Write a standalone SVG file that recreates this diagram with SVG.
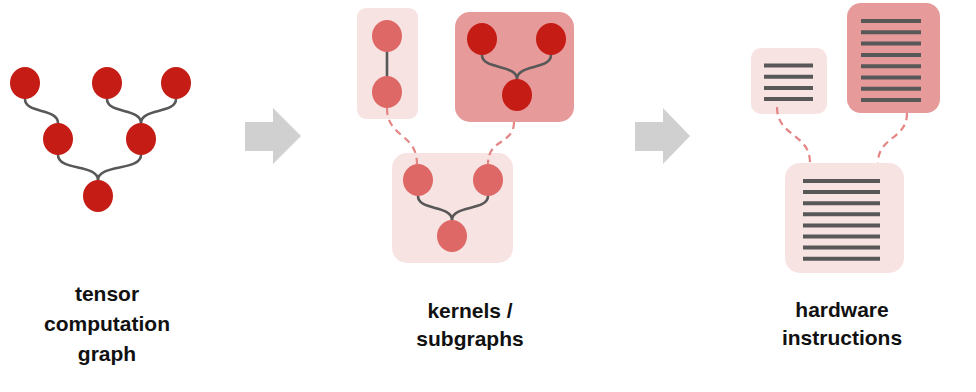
<svg xmlns="http://www.w3.org/2000/svg" width="976" height="392" viewBox="0 0 976 392">
  <style>
    .op-dark { fill: #C51D16; }
    .op-light { fill: #DD6866; }
    .edge { fill: none; stroke: #585858; stroke-width: 2.6; stroke-linecap: round; }
    .link { fill: none; stroke: #E48585; stroke-width: 2.2; stroke-dasharray: 7 5; }
    .box-light { fill: #F8E3E3; }
    .box-dark { fill: #E69A9A; }
    .instr { stroke: #585858; stroke-width: 4; }
    .step { fill: #D0D0D0; }
    .caption { font-family: "Liberation Sans", Arial, sans-serif; font-weight: bold; font-size: 21px; fill: #111; text-anchor: middle; }
  </style>

  <!-- stage 1: tensor computation graph -->
  <g id="graph">
    <g id="graph-edges">
      <path class="edge" d="M25,99 C25,114 58,108 58,123"/>
      <path class="edge" d="M107,99 C107,114 141,108 141,123"/>
      <path class="edge" d="M176,99 C176,114 141,108 141,123"/>
      <path class="edge" d="M58,155 C58,171 98,164 98,180"/>
      <path class="edge" d="M141,155 C141,171 98,164 98,180"/>
    </g>
    <g id="g-n1"><ellipse class="op-dark" cx="25" cy="83" rx="15" ry="16"/></g>
    <g id="g-n2"><ellipse class="op-dark" cx="107" cy="83" rx="15" ry="16"/></g>
    <g id="g-n3"><ellipse class="op-dark" cx="176" cy="83" rx="15" ry="16"/></g>
    <g id="g-n4"><ellipse class="op-dark" cx="58" cy="139" rx="15" ry="16"/></g>
    <g id="g-n5"><ellipse class="op-dark" cx="141" cy="139" rx="15" ry="16"/></g>
    <g id="g-n6"><ellipse class="op-dark" cx="98" cy="196" rx="15" ry="16"/></g>
  </g>

  <!-- step arrows -->
  <g id="arrows">
    <polygon class="step" points="245,122 273,122 273,108 301,136 273,164 273,151 245,151"/>
    <polygon class="step" points="635,122 663,122 663,108 690,136 663,164 663,151 635,151"/>
  </g>

  <!-- stage 2: kernels / subgraphs -->
  <g id="kernel-a">
    <rect class="box-light" x="357" y="8" width="61" height="111" rx="9"/>
    <line class="edge" x1="387" y1="50" x2="387" y2="78"/>
    <ellipse class="op-light" cx="387" cy="36" rx="15" ry="16"/>
    <ellipse class="op-light" cx="387" cy="92" rx="15" ry="16"/>
  </g>
  <g id="kernel-b">
    <rect class="box-dark" x="455" y="12" width="119" height="110" rx="15"/>
    <path class="edge" d="M482,55 C482,70 517,64 517,79"/>
    <path class="edge" d="M551,55 C551,70 517,64 517,79"/>
    <ellipse class="op-dark" cx="482" cy="39" rx="15" ry="16"/>
    <ellipse class="op-dark" cx="551" cy="39" rx="15" ry="16"/>
    <ellipse class="op-dark" cx="517" cy="95" rx="15" ry="16"/>
  </g>
  <g id="kernel-c">
    <rect class="box-light" x="392" y="153" width="121" height="110" rx="15"/>
    <path class="edge" d="M418,196 C418,211 452,205 452,220"/>
    <path class="edge" d="M488,196 C488,211 452,205 452,220"/>
    <ellipse class="op-light" cx="418" cy="180" rx="15" ry="16"/>
    <ellipse class="op-light" cx="488" cy="180" rx="15" ry="16"/>
    <ellipse class="op-light" cx="452" cy="236" rx="15" ry="16"/>
  </g>

  <!-- stage 3: hardware instructions -->
  <g id="instr-a">
    <rect class="box-light" x="751" y="48" width="76" height="66" rx="10"/>
    <g class="instr">
      <line x1="764" y1="65.5" x2="813" y2="65.5"/>
      <line x1="764" y1="76.7" x2="813" y2="76.7"/>
      <line x1="764" y1="87.9" x2="813" y2="87.9"/>
      <line x1="764" y1="99.1" x2="813" y2="99.1"/>
    </g>
  </g>
  <g id="instr-b">
    <rect class="box-dark" x="847" y="3" width="93" height="110" rx="14"/>
    <g class="instr">
      <line x1="861" y1="21" x2="921" y2="21"/>
      <line x1="861" y1="32.3" x2="921" y2="32.3"/>
      <line x1="861" y1="43.6" x2="921" y2="43.6"/>
      <line x1="861" y1="54.9" x2="921" y2="54.9"/>
      <line x1="861" y1="66.2" x2="921" y2="66.2"/>
      <line x1="861" y1="77.5" x2="921" y2="77.5"/>
      <line x1="861" y1="88.8" x2="921" y2="88.8"/>
      <line x1="861" y1="100.1" x2="921" y2="100.1"/>
    </g>
  </g>
  <g id="instr-c">
    <rect class="box-light" x="785" y="163" width="119" height="110" rx="15"/>
    <g class="instr">
      <line x1="803" y1="181" x2="880" y2="181"/>
      <line x1="803" y1="192.1" x2="880" y2="192.1"/>
      <line x1="803" y1="203.2" x2="880" y2="203.2"/>
      <line x1="803" y1="214.3" x2="880" y2="214.3"/>
      <line x1="803" y1="225.4" x2="880" y2="225.4"/>
      <line x1="803" y1="236.5" x2="880" y2="236.5"/>
      <line x1="803" y1="247.6" x2="880" y2="247.6"/>
      <line x1="803" y1="258.7" x2="880" y2="258.7"/>
    </g>
  </g>

  <!-- dashed mapping links -->
  <g id="links">
    <path class="link" d="M387,108 C387,138 417,133 417,164"/>
    <path class="link" d="M514,122 C514,145 488,138 488,164"/>
    <path class="link" d="M777,107 C777,137 810,133 810,163"/>
    <path class="link" d="M907,113 C907,140 878,136 878,163"/>
  </g>

  <!-- captions -->
  <g id="captions">
    <text class="caption" x="107" y="301">tensor</text>
    <text class="caption" x="107" y="331">computation</text>
    <text class="caption" x="107" y="361">graph</text>
    <text class="caption" x="470" y="318">kernels /</text>
    <text class="caption" x="470" y="346">subgraphs</text>
    <text class="caption" x="842" y="317">hardware</text>
    <text class="caption" x="842" y="345">instructions</text>
  </g>
</svg>
